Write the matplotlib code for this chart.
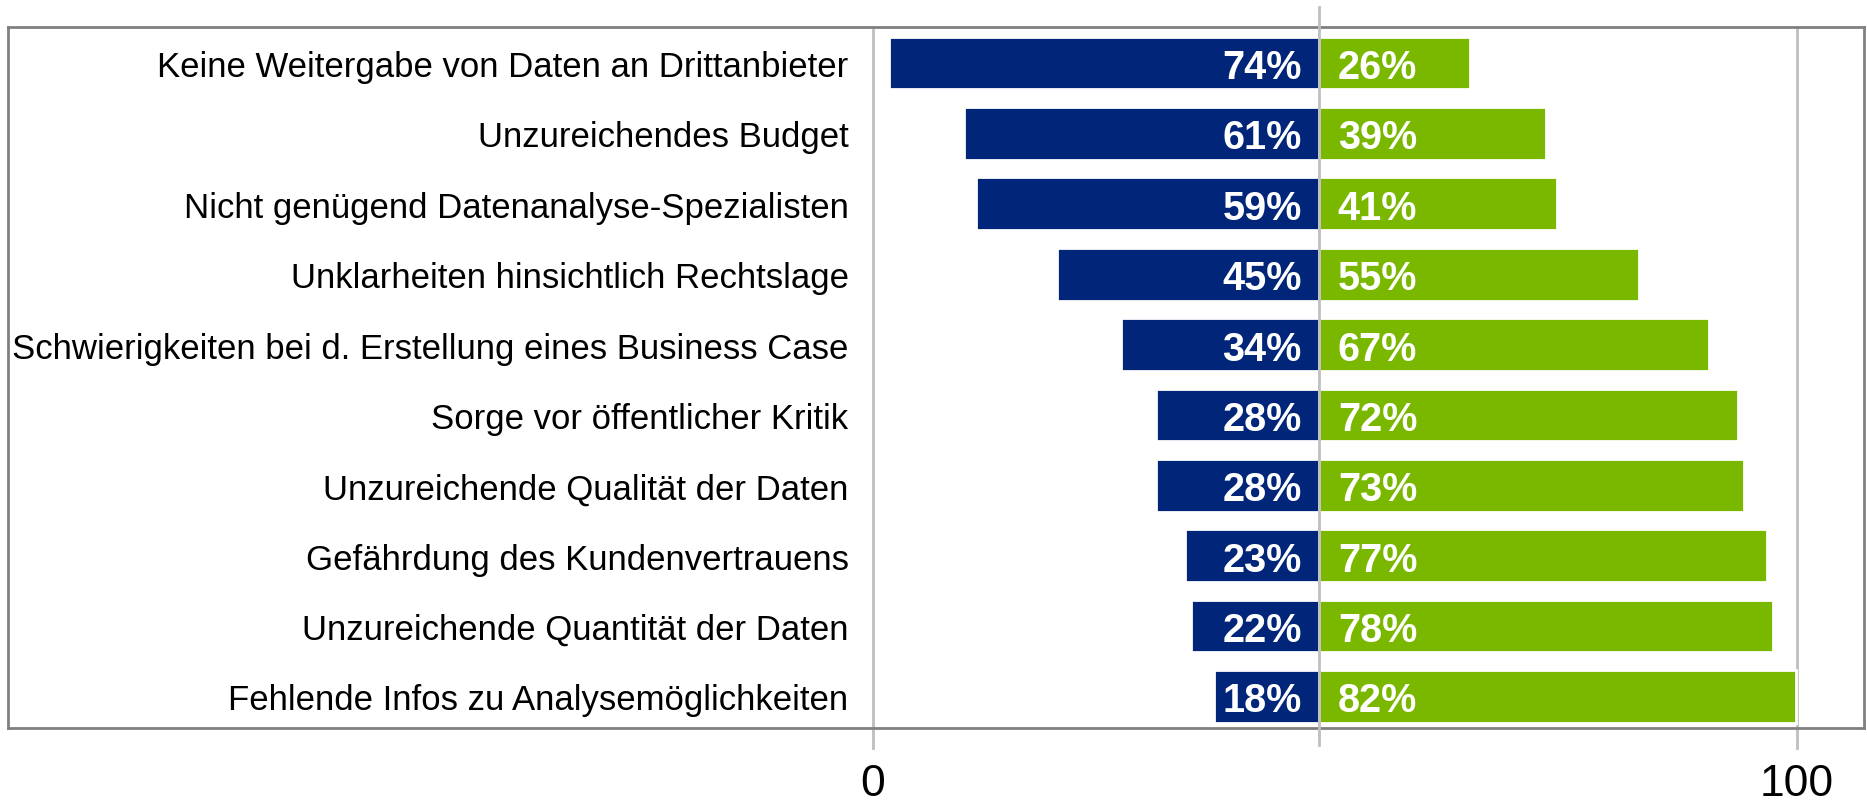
import matplotlib
matplotlib.use('Agg')
import matplotlib.pyplot as plt

plt.rcParams['font.family'] = ['Liberation Sans', 'DejaVu Sans']

# Daten (von oben nach unten)
kategorien = [
    'Keine Weitergabe von Daten an Drittanbieter',
    'Unzureichendes Budget',
    'Nicht genügend Datenanalyse-Spezialisten',
    'Unklarheiten hinsichtlich Rechtslage',
    'Schwierigkeiten bei d. Erstellung eines Business Case',
    'Sorge vor öffentlicher Kritik',
    'Unzureichende Qualität der Daten',
    'Gefährdung des Kundenvertrauens',
    'Unzureichende Quantität der Daten',
    'Fehlende Infos zu Analysemöglichkeiten',
]
anteil_blau = [74, 61, 59, 45, 34, 28, 28, 23, 22, 18]
anteil_gruen = [26, 39, 41, 55, 67, 72, 73, 77, 78, 82]
skala_ticks = [0, 100]

blau = '#002579'
gruen = '#7AB800'
grau_rahmen = '#808080'
grau_gitter = '#BFBFBF'

# Balken in Prozent, Mitte bei 0; zweite Skala (0..100) wie im Original verschoben
skala_null = -76.7      # Lage von "0" in Balkeneinheiten
skala_faktor = 1.589    # Balkeneinheiten pro Skaleneinheit


def fwd(x):
    return (x - skala_null) / skala_faktor


def inv(s):
    return s * skala_faktor + skala_null


fig = plt.figure(figsize=(18.67, 8.03), dpi=100)
ax = fig.add_axes([0.0043, 0.092, 0.9941, 0.873])

y = list(range(len(kategorien)))
ax.barh(y, [-v for v in anteil_blau], left=0, height=0.75, color=blau,
        edgecolor='white', linewidth=2, zorder=2)
ax.barh(y, anteil_gruen, left=0, height=0.75, color=gruen,
        edgecolor='white', linewidth=2, zorder=2)

ax.set_xlim(-225.4, 93.7)
ax.set_ylim(9.45, -0.51)

# Gitterlinien der Skala und Mittellinie
for t in skala_ticks:
    ax.axvline(inv(t), ymin=-0.0285, ymax=1, color=grau_gitter, lw=2,
               clip_on=False, zorder=1)
ax.axvline(0, ymin=-0.024, ymax=1.0285, color=grau_gitter, lw=2,
           clip_on=False, zorder=3)

# Beschriftungen
for i in y:
    ax.annotate(f'{anteil_blau[i]}%', xy=(0, i), xytext=(-12.5, 0),
                textcoords='offset points', ha='right', va='center_baseline',
                color='white', fontweight='bold', fontsize=28.5, zorder=4)
    ax.annotate(f'{anteil_gruen[i]}%', xy=(0, i), xytext=(13.5, 0),
                textcoords='offset points', ha='left', va='center_baseline',
                color='white', fontweight='bold', fontsize=28.5, zorder=4)
    ax.annotate(kategorien[i], xy=(inv(0), i), xytext=(-17.5, 0),
                textcoords='offset points', ha='right', va='center_baseline',
                color='black', fontsize=25)

ax.set_xticks([])
ax.set_yticks([])
for sp in ax.spines.values():
    sp.set_color(grau_rahmen)
    sp.set_linewidth(2)

sec = ax.secondary_xaxis('bottom', functions=(fwd, inv))
sec.set_xticks(skala_ticks)
sec.tick_params(length=0, labelsize=32, pad=25)
sec.spines['bottom'].set_visible(False)

fig.savefig('out.png', dpi=100)
